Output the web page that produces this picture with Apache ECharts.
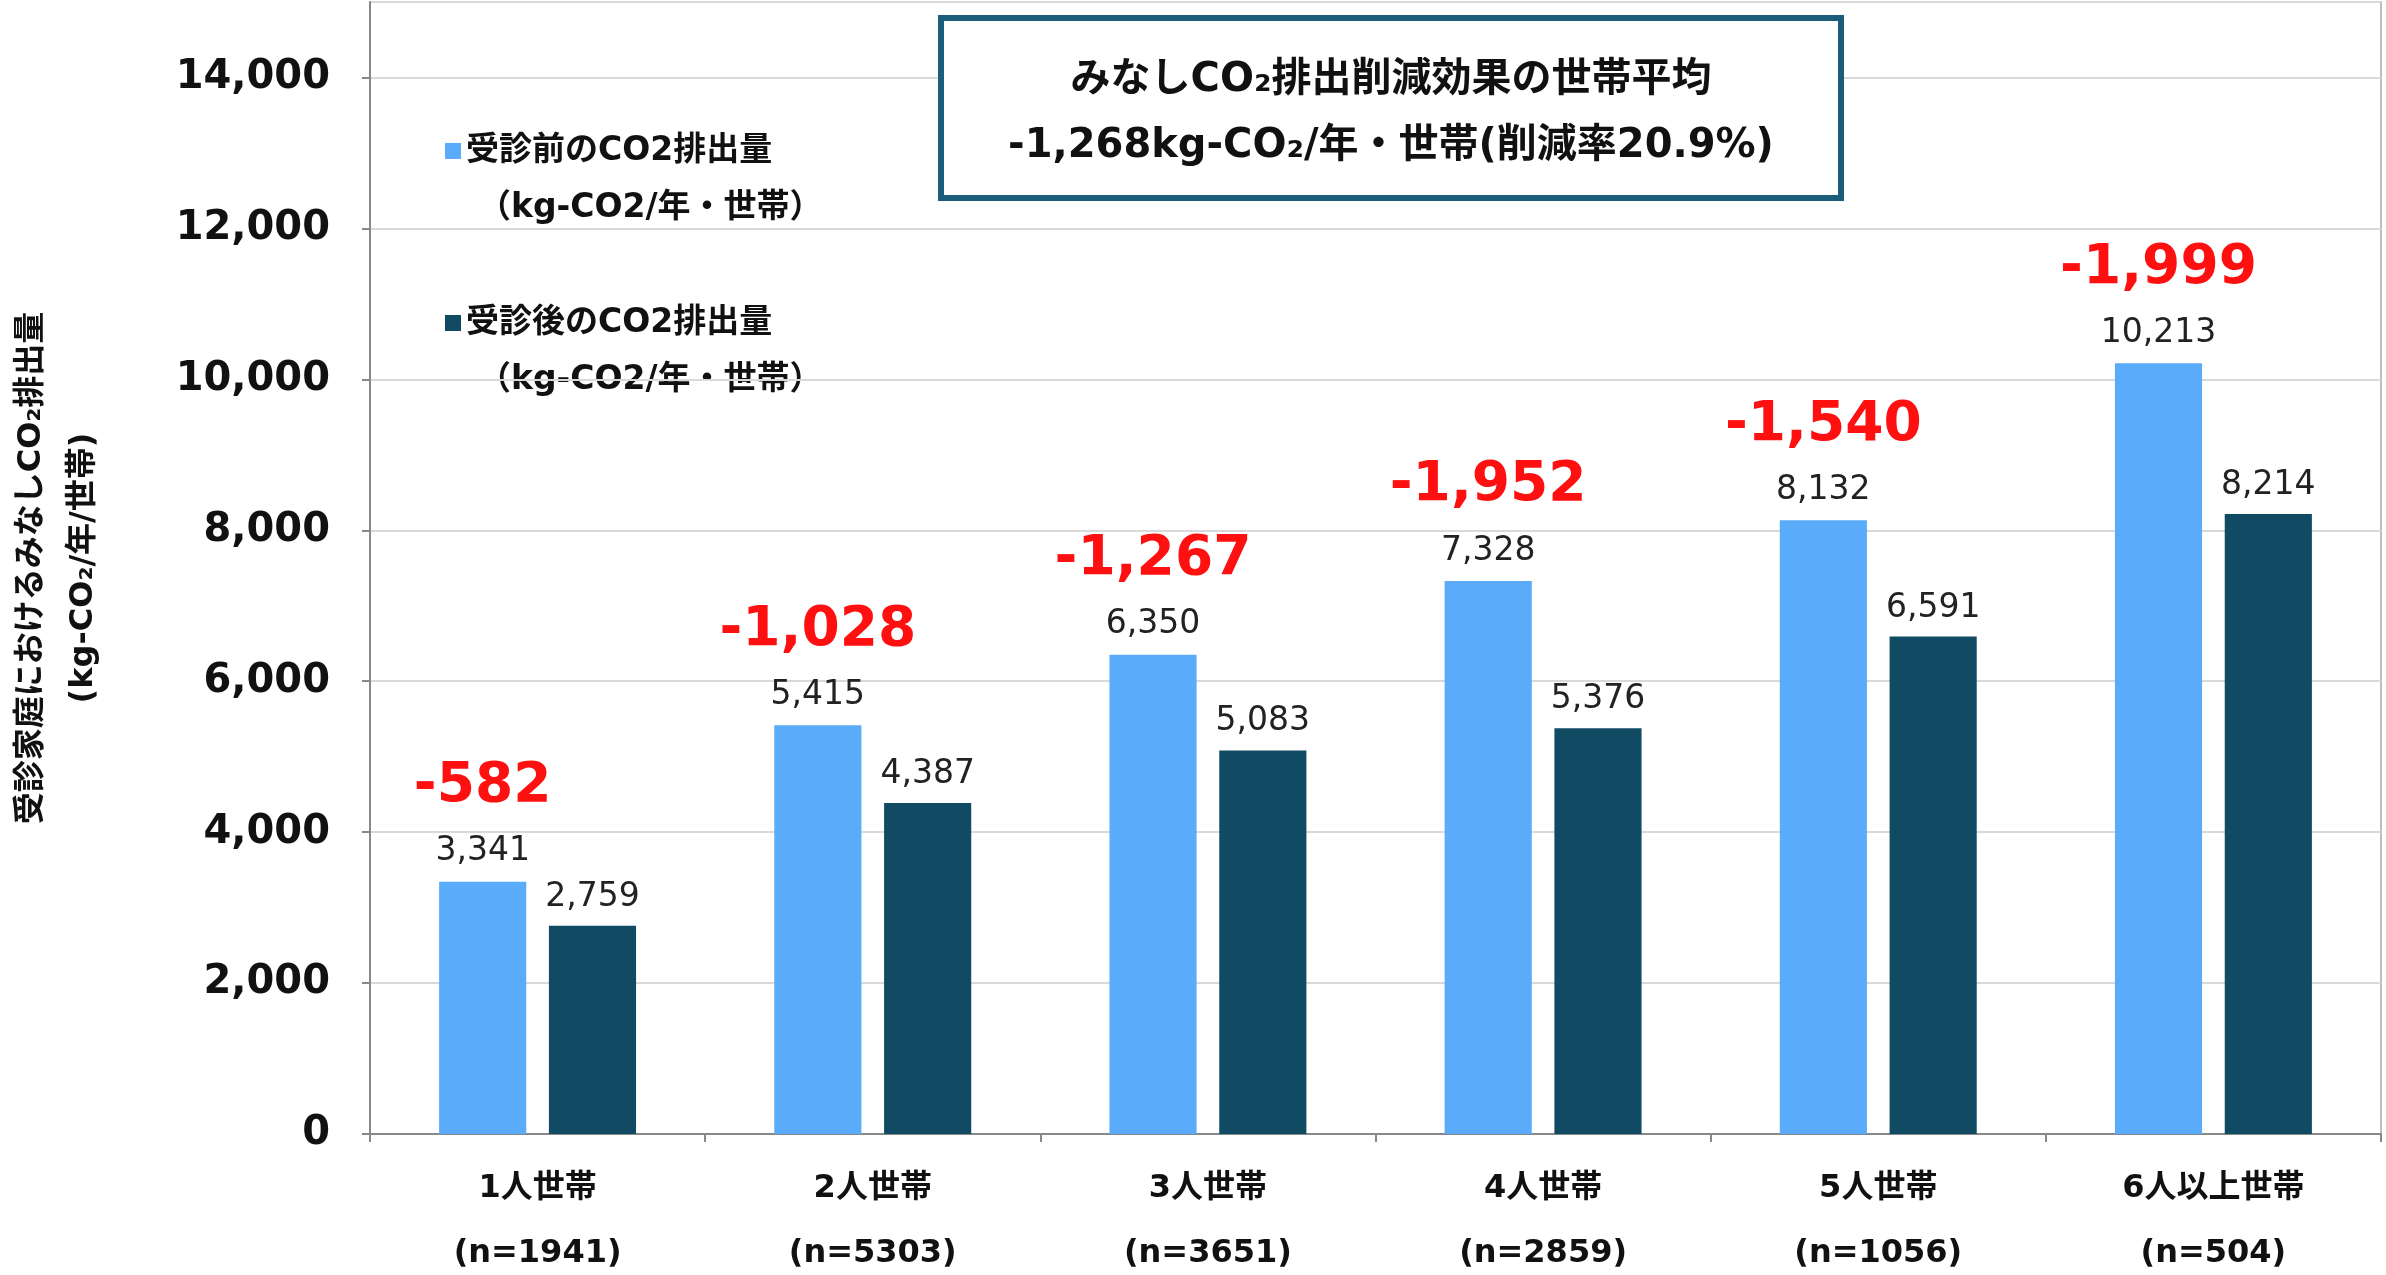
<!DOCTYPE html>
<html><head><meta charset="utf-8">
<script src="https://cdn.jsdelivr.net/npm/echarts@6/dist/echarts.min.js"></script>
<style>html,body{margin:0;padding:0;background:#fff}#c{width:2386px;height:1275px}</style>
</head><body><div id="c"></div>
<script>
const categories = ['1人世帯\n(n=1941)','2人世帯\n(n=5303)','3人世帯\n(n=3651)','4人世帯\n(n=2859)','5人世帯\n(n=1056)','6人以上世帯\n(n=504)'];
const before = [3341,5415,6350,7328,8132,10213];
const after = [2759,4387,5083,5376,6591,8214];
const diff = ['-582','-1,028','-1,267','-1,952','-1,540','-1,999'];
const nameBefore = '受診前のCO2排出量';
const nameAfter = '受診後のCO2排出量';
const unitText = '（kg-CO2/年・世帯）';
const F = '"DejaVu Sans","Noto Sans CJK JP",sans-serif';
const chart = echarts.init(document.getElementById('c'));
chart.setOption({
  animation:false,
  textStyle:{fontFamily:F},
  grid:{left:370,right:5,top:2,bottom:141,outerBoundsMode:'none',containLabel:false,show:true,borderColor:'#bdbdbd',borderWidth:2},
  legend:{orient:'vertical',left:440,top:126,itemWidth:16,itemHeight:16,itemGap:132,icon:'rect',
    textStyle:{fontSize:33,fontWeight:'bold',color:'#111',lineHeight:40,fontFamily:F},
    data:[nameBefore,nameAfter]},
  xAxis:{type:'category',data:categories,
    axisLine:{lineStyle:{color:'#888',width:2}},
    axisTick:{show:true,length:8,lineStyle:{color:'#888',width:2}},
    axisLabel:{fontSize:32,fontWeight:'bold',color:'#111',lineHeight:65,margin:22,fontFamily:F}},
  yAxis:{type:'value',min:0,max:15000,interval:2000,
    name:'受診家庭におけるみなしCO₂排出量\n(kg-CO₂/年/世帯)',nameLocation:'middle',nameGap:260,nameRotate:90,
    nameTextStyle:{fontSize:32,fontWeight:'bold',color:'#111',lineHeight:52,fontFamily:F},
    axisLine:{show:true,lineStyle:{color:'#888',width:2}},
    axisTick:{show:true,length:8,lineStyle:{color:'#888',width:2}},
    splitLine:{lineStyle:{color:'#d9d9d9',width:2}},
    axisLabel:{fontSize:40,fontWeight:'bold',color:'#111',margin:40,showMaxLabel:false,fontFamily:F,
      formatter:v=>v%2000===0?v.toLocaleString('en-US'):''}},
  series:[
    {name:nameBefore,type:'bar',data:before,barWidth:'26%',barGap:'26%',itemStyle:{color:'#5aabf9'},
     label:{show:true,position:'top',distance:10,
       formatter:p=>'{r|'+diff[p.dataIndex]+'}\n{v|'+p.value.toLocaleString('en-US')+'}',
       rich:{r:{fontSize:55,fontWeight:'bold',color:'#ff1010',lineHeight:90,fontFamily:F},
             v:{fontSize:33,color:'#222',lineHeight:40,fontFamily:F}}}},
    {name:nameAfter,type:'bar',data:after,barWidth:'26%',itemStyle:{color:'#114a63'},
     label:{show:true,position:'top',distance:12,fontSize:33,color:'#222',fontFamily:F,
       formatter:p=>p.value.toLocaleString('en-US')}}
  ],
  graphic:[
    {type:'text',x:478,y:192,style:{text:unitText,fontSize:33,fontWeight:'bold',fill:'#111',fontFamily:F}},
    {type:'text',x:478,y:364,style:{text:unitText,fontSize:33,fontWeight:'bold',fill:'#111',fontFamily:F}},
    {type:'rect',shape:{x:941,y:18,width:900,height:180},style:{fill:'#fff',stroke:'#1a5f7a',lineWidth:6},z:100},
    {type:'text',x:1391,y:48,z:101,style:{text:'みなしCO₂排出削減効果の世帯平均\n-1,268kg-CO₂/年・世帯(削減率20.9%)',
      align:'center',fontSize:40,fontWeight:'bold',fill:'#111',lineHeight:66,fontFamily:F}}
  ]
});
</script></body></html>
